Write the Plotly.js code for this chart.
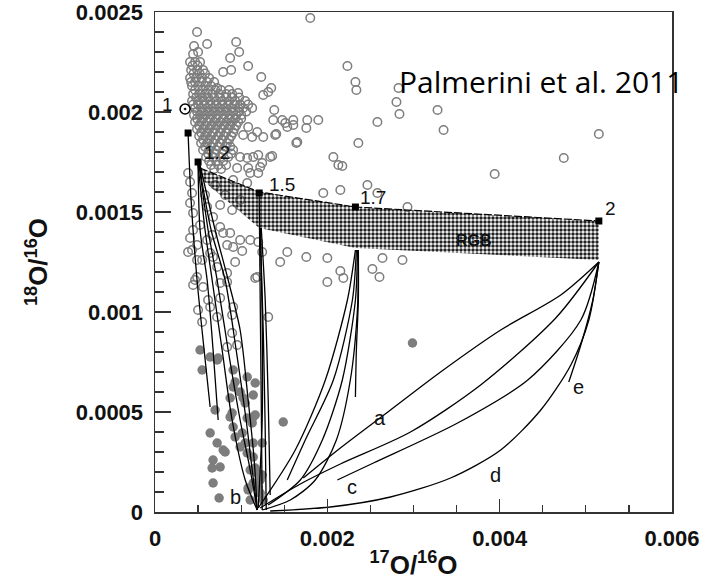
<!DOCTYPE html>
<html><head><meta charset="utf-8">
<script src="https://cdn.plot.ly/plotly-3.0.1.min.js"></script>
<style>body{margin:0;background:#fff}#plot{width:715px;height:586px}</style>
</head><body><div id="plot"></div>
<script>
// All values below are in units of 1e-3 (per-mil of the ratio)
const UNIT = 1e-3;

// Presolar grains, open circles  [17O/16O, 18O/16O]
const openSparse = [[0.488,2.400],[0.605,2.340],[0.942,2.350],[0.977,2.300],[0.872,2.270],[0.791,2.200],[0.884,2.210],[1.081,2.230],[1.233,2.175],[1.802,2.470],[0.721,2.120],[0.965,2.095],[1.256,2.085],[1.314,2.100],[1.349,2.120],[1.384,2.010],[2.233,2.230],[2.326,2.150],[2.337,2.110],[1.477,1.960],[1.512,1.945],[1.605,1.960],[1.605,1.935],[1.767,1.960],[1.895,1.960],[1.756,1.920],[1.081,1.925],[1.186,1.900],[1.128,1.875],[1.023,1.885],[1.256,1.875],[1.395,1.885],[1.640,1.845],[2.070,1.775],[2.128,1.735],[0.988,1.775],[1.070,1.770],[1.140,1.775],[1.198,1.785],[1.244,1.745],[1.337,1.775],[0.953,1.720],[1.081,1.720],[1.221,1.725],[1.105,1.695],[1.198,1.695],[1.953,1.595],[2.151,1.610],[0.907,1.660],[1.070,1.645],[2.360,1.845],[1.407,1.890],[1.535,1.925],[2.581,1.950],[2.826,2.120],[2.802,2.050],[2.837,1.990],[3.279,2.010],[3.349,1.910],[5.151,1.890],[4.744,1.770],[3.942,1.690],[2.174,1.730],[2.465,1.635],[2.581,1.595],[2.930,1.525],[2.640,1.270],[2.872,1.260],[2.523,1.215],[2.605,1.175],[1.651,1.850],[1.360,1.780],[1.535,1.300],[1.453,1.250],[1.756,1.275],[2.000,1.270],[2.151,1.205],[2.186,1.170],[2.000,1.150],[1.372,1.960]];
const openLower = [[0.384,1.695],[0.407,1.650],[0.430,1.595],[0.407,1.545],[0.442,1.495],[0.605,1.525],[0.674,1.475],[0.756,1.425],[0.872,1.395],[0.907,1.325],[0.988,1.360],[1.105,1.360],[1.198,1.350],[0.930,1.250],[1.186,1.175],[0.407,1.370],[0.430,1.310],[0.488,1.260],[0.488,1.175],[0.558,1.125],[0.442,1.135],[0.605,1.360],[0.640,1.295],[0.721,1.225],[0.837,1.195],[0.756,1.145],[0.384,1.300],[0.442,1.410],[0.791,1.395],[0.837,1.335],[1.012,1.305],[1.244,1.300],[1.163,1.170],[0.465,1.160],[0.616,1.060],[0.756,1.070],[0.837,1.150],[0.907,1.025],[0.500,1.010],[0.674,1.275],[0.547,1.260],[0.488,1.335],[0.547,0.950],[0.721,0.975],[0.895,0.985],[0.895,0.895],[0.837,0.825],[0.953,0.835],[1.314,0.975],[0.640,1.025],[0.698,1.635],[0.814,1.585],[0.581,1.585],[0.756,1.535],[0.895,1.510],[0.988,1.560],[0.523,1.435],[0.663,1.385]];
const openCore = [[0.407,2.250],[0.465,2.250],[0.523,2.250],[0.419,2.210],[0.488,2.210],[0.558,2.210],[0.407,2.170],[0.477,2.170],[0.547,2.170],[0.628,2.170],[0.430,2.130],[0.500,2.130],[0.581,2.130],[0.651,2.130],[0.442,2.090],[0.512,2.090],[0.581,2.090],[0.663,2.090],[0.744,2.090],[0.826,2.090],[0.895,2.090],[0.430,2.055],[0.500,2.055],[0.570,2.055],[0.640,2.055],[0.709,2.055],[0.779,2.055],[0.860,2.055],[0.930,2.055],[1.047,2.055],[0.465,2.020],[0.535,2.020],[0.605,2.020],[0.674,2.020],[0.744,2.020],[0.814,2.020],[0.884,2.020],[0.965,2.020],[1.023,2.020],[1.128,2.020],[0.453,1.985],[0.523,1.985],[0.593,1.985],[0.663,1.985],[0.733,1.985],[0.802,1.985],[0.872,1.985],[0.942,1.985],[1.000,1.985],[0.465,1.950],[0.535,1.950],[0.605,1.950],[0.686,1.950],[0.756,1.950],[0.826,1.950],[0.895,1.950],[0.965,1.950],[0.488,1.915],[0.558,1.915],[0.628,1.915],[0.698,1.915],[0.767,1.915],[0.849,1.915],[0.919,1.915],[0.512,1.880],[0.581,1.880],[0.651,1.880],[0.733,1.880],[0.802,1.880],[0.884,1.880],[0.535,1.845],[0.605,1.845],[0.674,1.845],[0.756,1.845],[0.837,1.845],[0.558,1.810],[0.628,1.810],[0.709,1.810],[0.791,1.810],[0.907,1.810],[0.593,1.775],[0.674,1.775],[0.756,1.775],[0.849,1.775],[0.651,1.735],[0.733,1.735],[0.826,1.735]];
const openCoreFill = [[0.442,2.290],[0.500,2.300],[0.453,2.330],[0.436,2.232],[0.494,2.232],[0.448,2.192],[0.517,2.192],[0.581,2.192],[0.419,2.150],[0.465,2.150],[0.535,2.150],[0.605,2.150],[0.686,2.150],[0.465,2.110],[0.547,2.110],[0.616,2.110],[0.698,2.110],[0.767,2.110],[0.860,2.110],[0.477,2.072],[0.547,2.072],[0.616,2.072],[0.686,2.072],[0.756,2.072],[0.826,2.072],[0.895,2.072],[0.977,2.072],[0.442,2.037],[0.500,2.037],[0.570,2.037],[0.640,2.037],[0.709,2.037],[0.779,2.037],[0.849,2.037],[0.919,2.037],[0.988,2.037],[1.081,2.037],[0.488,2.002],[0.558,2.002],[0.628,2.002],[0.698,2.002],[0.767,2.002],[0.837,2.002],[0.907,2.002],[0.977,2.002],[1.058,2.002],[0.488,1.967],[0.558,1.967],[0.640,1.967],[0.709,1.967],[0.791,1.967],[0.860,1.967],[0.930,1.967],[1.000,1.967],[0.512,1.932],[0.581,1.932],[0.651,1.932],[0.721,1.932],[0.802,1.932],[0.872,1.932],[0.942,1.932],[0.535,1.897],[0.605,1.897],[0.674,1.897],[0.756,1.897],[0.826,1.897],[0.907,1.897],[0.558,1.862],[0.628,1.862],[0.698,1.862],[0.779,1.862],[0.860,1.862],[0.581,1.827],[0.651,1.827],[0.733,1.827],[0.814,1.827],[0.872,1.827],[0.616,1.792],[0.698,1.792],[0.779,1.792],[0.884,1.792],[0.628,1.755],[0.709,1.755],[0.791,1.755],[0.686,1.715],[0.767,1.715]];

// Grains, filled circles
const filledPts = [[0.523,0.810],[0.640,0.775],[0.547,0.710],[0.721,0.760],[0.907,0.710],[1.070,0.675],[1.163,0.645],[0.907,0.625],[1.140,0.585],[0.872,0.570],[1.023,0.570],[1.140,0.475],[1.070,0.470],[0.872,0.475],[0.907,0.425],[1.012,0.395],[0.640,0.395],[0.721,0.345],[0.791,0.310],[0.674,0.260],[0.663,0.220],[0.756,0.225],[0.674,0.145],[0.744,0.070],[1.070,0.295],[1.140,0.275],[1.105,0.210],[1.186,0.195],[1.140,0.145],[1.221,0.160],[1.081,0.110],[1.221,0.095],[1.488,0.450],[1.140,0.345],[0.988,0.325],[2.988,0.845],[1.047,0.345],[1.244,0.345],[1.163,0.220],[1.244,0.185],[1.198,0.125],[1.081,0.120],[0.930,0.375],[0.814,0.300],[0.733,0.770],[0.930,0.650],[1.047,0.545],[0.698,0.510],[0.895,0.495],[1.163,0.485],[0.988,0.600],[1.128,0.445],[1.105,0.060],[1.256,0.060]];

// RGB band edges
const rgbTop = [[0.523,1.720],[1.209,1.600],[2.326,1.525],[5.151,1.455]];
const rgbBottom = [[0.523,1.670],[1.209,1.420],[2.326,1.320],[5.151,1.260]];

// Stellar masses (squares) and the initial composition point
const massLabels = ['1','1.2','1.5','1.7','2'];
const massPts = [[0.384,1.895],[0.500,1.750],[1.209,1.595],[2.326,1.525],[5.151,1.455]];
const initialPt = [[0.349,2.015]];

// Model curves
const curves = {
  A1: [[0.384,1.895],[0.419,1.560],[0.488,1.160],[0.570,0.810],[0.640,0.525]],
  A6: [[0.500,1.735],[0.523,1.410],[0.605,1.160],[0.674,0.810],[0.733,0.460]],
  A2: [[0.500,1.735],[0.581,1.410],[0.663,1.160],[0.779,0.810],[0.895,0.460],[1.047,0.160],[1.186,0.010]],
  A3: [[0.512,1.735],[0.616,1.410],[0.721,1.160],[0.849,0.810],[0.988,0.460],[1.105,0.210],[1.186,0.010]],
  A4: [[0.512,1.735],[0.651,1.410],[0.814,1.160],[0.942,0.810],[1.058,0.460],[1.128,0.210],[1.186,0.010]],
  A5: [[0.523,1.735],[0.698,1.410],[0.849,1.160],[0.988,0.910],[1.081,0.560],[1.151,0.260],[1.186,0.010]],
  B1: [[1.209,1.595],[1.221,1.060],[1.233,0.560],[1.244,0.010]],
  B2: [[1.221,1.420],[1.256,0.910],[1.279,0.410],[1.291,0.010]],
  B3: [[1.233,1.420],[1.279,1.060],[1.314,0.560],[1.337,0.085]],
  B4: [[1.221,1.420],[1.244,0.960],[1.244,0.460],[1.198,0.020]],
  C1: [[2.326,1.310],[2.233,1.060],[1.977,0.660],[1.628,0.310],[1.198,0.020]],
  C2: [[2.337,1.310],[2.291,1.060],[2.070,0.660],[1.744,0.360],[1.535,0.160]],
  C3: [[2.349,1.310],[2.326,1.060],[2.174,0.660],[1.942,0.360],[1.686,0.160],[1.314,0.035]],
  C4: [[2.360,1.310],[2.360,1.060],[2.337,0.810],[2.326,0.575]],
  C5: [[2.360,1.310],[2.349,1.010],[2.267,0.660],[2.105,0.360],[1.860,0.160],[1.570,0.060],[1.244,0.010]],
  Da: [[5.151,1.250],[4.709,1.085],[4.012,0.910],[3.314,0.700],[2.733,0.510],[2.151,0.320],[1.721,0.170]],
  Db: [[5.151,1.250],[4.651,0.970],[3.779,0.635],[2.965,0.400],[2.151,0.240],[1.686,0.140],[1.221,0.020]],
  Dc: [[5.151,1.250],[4.942,0.960],[4.326,0.660],[3.512,0.445],[2.535,0.245],[2.116,0.160]],
  Dd: [[5.151,1.250],[5.035,0.960],[4.826,0.735],[4.477,0.510],[4.012,0.310],[3.430,0.170],[2.733,0.075],[2.035,0.025],[1.337,0.005]],
  De: [[5.151,1.250],[5.081,1.060],[4.942,0.835],[4.802,0.650]]
};

// Curve letter labels
const letterText = ['a','b','c','d','e'];
const letterPts = [[2.616,0.470],[0.930,0.075],[2.291,0.125],[3.953,0.185],[4.919,0.625]];
const massLabelPts = [[0.140,2.040],[0.721,1.800],[1.477,1.640],[2.535,1.575],[5.291,1.520]];

const X = p => p.map(d => d[0]*UNIT);
const Y = p => p.map(d => d[1]*UNIT);
const grey = '#7d7d7d';

const traces = [];
const openAll = openCore.concat(openCoreFill, openSparse, openLower);
traces.push({x:X(openAll), y:Y(openAll), type:'scatter', mode:'markers',
  marker:{symbol:'circle-open', size:8.5, color:grey, line:{width:1.5, color:grey}}, hoverinfo:'skip'});
traces.push({x:X(filledPts), y:Y(filledPts), type:'scatter', mode:'markers',
  marker:{symbol:'circle', size:9.5, color:grey}, hoverinfo:'skip'});
const band = rgbTop.concat(rgbBottom.slice().reverse());
traces.push({x:X(band), y:Y(band), type:'scatter', mode:'lines', fill:'toself',
  fillcolor:'rgba(255,255,255,0.6)',
  fillpattern:{shape:'.', size:4, solidity:0.6, fgcolor:'#222'},
  line:{color:'rgba(0,0,0,0)', width:0}, hoverinfo:'skip'});
traces.push({x:X(rgbTop), y:Y(rgbTop), type:'scatter', mode:'lines',
  line:{color:'#000', width:1.2, dash:'8px,2px'}, hoverinfo:'skip'});
Object.keys(curves).forEach(k => {
  traces.push({x:X(curves[k]), y:Y(curves[k]), type:'scatter', mode:'lines',
    line:{color:'#000', width:1.3, shape:'spline', smoothing:0.8}, hoverinfo:'skip'});
});
traces.push({x:X(massPts), y:Y(massPts), type:'scatter', mode:'markers',
  marker:{symbol:'square', size:7, color:'#000'}, hoverinfo:'skip'});
traces.push({x:X(initialPt), y:Y(initialPt), type:'scatter', mode:'markers',
  marker:{symbol:'circle-dot', size:10, color:'#fff', line:{color:'#000', width:1.5}}, hoverinfo:'skip'});

const lblFont = {family:'Liberation Sans, Arial, sans-serif', size:19, color:'#111'};
const annotations = [];
massLabels.forEach((t,i) => annotations.push({x:massLabelPts[i][0]*UNIT, y:massLabelPts[i][1]*UNIT, text:t, showarrow:false, font:lblFont}));
letterText.forEach((t,i) => annotations.push({x:letterPts[i][0]*UNIT, y:letterPts[i][1]*UNIT, text:t, showarrow:false, font:{...lblFont, size:20}}));
annotations.push({x:3.698*UNIT, y:1.360*UNIT, text:'RGB', showarrow:false, font:{family:'Liberation Sans, Arial, sans-serif', size:16, color:'#111', weight:'bold'}});
annotations.push({xref:'paper', yref:'paper', x:0.468, y:0.862, xanchor:'left', yanchor:'middle', text:'Palmerini et al. 2011', showarrow:false, font:{family:'Open Sans, sans-serif', size:30, color:'#000'}});

const tickFont = {family:'Liberation Sans, Arial, sans-serif', size:22, color:'#111', weight:'bold'};
const titleFont = {family:'Liberation Sans, Arial, sans-serif', size:26, color:'#111', weight:'bold'};
const layout = {
  width:715, height:586,
  margin:{l:155, r:43, t:12, b:74},
  paper_bgcolor:'#fff', plot_bgcolor:'#fff',
  showlegend:false,
  xaxis:{range:[0,0.006], tickvals:[0,0.002,0.004,0.006], ticktext:['0','0.002','0.004','0.006'],
    ticks:'inside', ticklen:13, tickwidth:1.5, tickcolor:'#333', ticklabelstandoff:6, ticklabeloverflow:'allow',
    minor:{dtick:0.0005, ticks:'inside', ticklen:7, tickwidth:1.3, tickcolor:'#333'},
    showgrid:false, zeroline:false, showline:true, mirror:true, linecolor:'#333', linewidth:1.5,
    tickfont:tickFont,
    title:{text:'<sup>17</sup>O/<sup>16</sup>O', font:titleFont, standoff:6}},
  yaxis:{range:[0,0.0025], tickvals:[0,0.0005,0.001,0.0015,0.002,0.0025], ticktext:['0','0.0005','0.001','0.0015','0.002','0.0025'],
    ticks:'inside', ticklen:16, tickwidth:1.5, tickcolor:'#333', ticklabelstandoff:6, ticklabeloverflow:'allow',
    minor:{dtick:0.0001, ticks:'inside', ticklen:9, tickwidth:1.3, tickcolor:'#333'},
    showgrid:false, zeroline:false, showline:true, mirror:true, linecolor:'#333', linewidth:1.5,
    tickfont:tickFont,
    title:{text:'<sup>18</sup>O/<sup>16</sup>O', font:titleFont, standoff:20}},
  annotations:annotations
};
Plotly.newPlot('plot', traces, layout, {displayModeBar:false, staticPlot:true});
</script>
</body></html>
